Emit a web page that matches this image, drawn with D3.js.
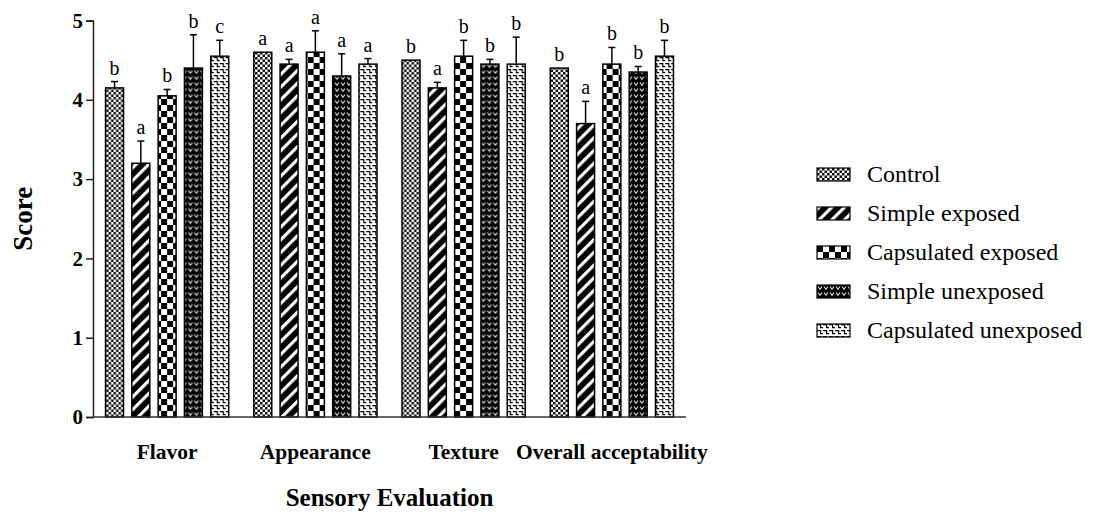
<!DOCTYPE html>
<html>
<head>
<meta charset="utf-8">
<script src="https://cdn.jsdelivr.net/npm/d3@7"></script>
<style>
  html, body { margin: 0; padding: 0; background: #fff; }
  svg { display: block; }
  text { font-family: "Liberation Serif", "Times New Roman", serif; fill: #000; }
</style>
</head>
<body>
<svg id="chart" width="1094" height="513"></svg>
<script>
// Sensory attributes (x groups) and treatments (bars within each group)
const categories = ["Flavor", "Appearance", "Texture", "Overall acceptability"];
const seriesNames = ["Control", "Simple exposed", "Capsulated exposed", "Simple unexposed", "Capsulated unexposed"];

// Mean scores per treatment, in category order
const controlMeans          = [4.15, 4.60, 4.50, 4.40];
const simpleExposedMeans    = [3.20, 4.45, 4.15, 3.70];
const capsExposedMeans      = [4.05, 4.60, 4.55, 4.45];
const simpleUnexposedMeans  = [4.40, 4.30, 4.45, 4.35];
const capsUnexposedMeans    = [4.55, 4.45, 4.45, 4.55];

// Standard deviations (upper error bars)
const controlSD          = [0.08, 0.00, 0.00, 0.00];
const simpleExposedSD    = [0.28, 0.06, 0.07, 0.28];
const capsExposedSD      = [0.08, 0.27, 0.20, 0.21];
const simpleUnexposedSD  = [0.42, 0.28, 0.06, 0.07];
const capsUnexposedSD    = [0.20, 0.07, 0.34, 0.20];

// Significance letters
const controlLetters          = ["b", "a", "b", "b"];
const simpleExposedLetters    = ["a", "a", "a", "a"];
const capsExposedLetters      = ["b", "a", "b", "b"];
const simpleUnexposedLetters  = ["b", "a", "b", "b"];
const capsUnexposedLetters    = ["c", "a", "b", "b"];

const yTicks = [0, 1, 2, 3, 4, 5];

const seriesData = [
  { key: "ctrl", name: seriesNames[0], means: controlMeans, sd: controlSD, letters: controlLetters },
  { key: "sexp", name: seriesNames[1], means: simpleExposedMeans, sd: simpleExposedSD, letters: simpleExposedLetters },
  { key: "cexp", name: seriesNames[2], means: capsExposedMeans, sd: capsExposedSD, letters: capsExposedLetters },
  { key: "sunx", name: seriesNames[3], means: simpleUnexposedMeans, sd: simpleUnexposedSD, letters: simpleUnexposedLetters },
  { key: "cunx", name: seriesNames[4], means: capsUnexposedMeans, sd: capsUnexposedSD, letters: capsUnexposedLetters }
];

const svg = d3.select("#chart");
const defs = svg.append("defs");

const x0 = d3.scaleBand().domain(categories).range([93, 686]).paddingInner(0).paddingOuter(0);
const x1 = d3.scaleBand().domain(seriesNames).range([0, x0.bandwidth()])
  .paddingInner(0.316).paddingOuter(0.4765);
const y = d3.scaleLinear().domain([0, 5]).range([417, 20.5]);

// Fill patterns, anchored at a given origin so each bar starts its tile cleanly
let patCount = 0;
function makePattern(key, ox, oy) {
  const id = "pat" + (patCount++);
  const p = defs.append("pattern").attr("id", id).attr("patternUnits", "userSpaceOnUse");
  if (key === "ctrl") {
    p.attr("width", 5).attr("height", 5).attr("patternTransform", `translate(${ox},${oy})`);
    p.append("rect").attr("width", 5).attr("height", 5).attr("fill", "#fff");
    p.append("rect").attr("width", 2.5).attr("height", 2.5).attr("fill", "#111");
    p.append("rect").attr("x", 2.5).attr("y", 2.5).attr("width", 2.5).attr("height", 2.5).attr("fill", "#111");
  } else if (key === "sexp") {
    p.attr("width", 9).attr("height", 10).attr("patternTransform", `translate(${ox},${oy}) rotate(45)`);
    p.append("rect").attr("width", 9).attr("height", 10).attr("fill", "#000");
    p.append("rect").attr("x", 0).attr("width", 3.2).attr("height", 10).attr("fill", "#fff");
  } else if (key === "cexp") {
    p.attr("width", 12).attr("height", 12).attr("patternTransform", `translate(${ox},${oy})`);
    p.append("rect").attr("width", 12).attr("height", 12).attr("fill", "#fff");
    p.append("rect").attr("width", 6).attr("height", 6).attr("fill", "#000");
    p.append("rect").attr("x", 6).attr("y", 6).attr("width", 6).attr("height", 6).attr("fill", "#000");
  } else if (key === "sunx") {
    p.attr("width", 6).attr("height", 6).attr("patternTransform", `translate(${ox},${oy})`);
    p.append("rect").attr("width", 6).attr("height", 6).attr("fill", "#000");
    p.append("path").attr("d", "M1,1.5 L3,4.3 L5,1.5").attr("fill", "none")
      .attr("stroke", "#ddd").attr("stroke-width", 1.1);
  } else {
    p.attr("width", 6).attr("height", 6).attr("patternTransform", `translate(${ox},${oy})`);
    p.append("rect").attr("width", 6).attr("height", 6).attr("fill", "#fff");
    p.append("path").attr("d", "M0,0.6 H3.6 V3.6 H6")
      .attr("fill", "none").attr("stroke", "#000").attr("stroke-width", 1.2);
  }
  return "url(#" + id + ")";
}

// Axes
const yAxis = d3.axisLeft(y).tickValues(yTicks).tickSize(7).tickPadding(3).tickFormat(d3.format("d"));
const gy = svg.append("g").attr("transform", "translate(93,0)").call(yAxis);
gy.select(".domain").attr("stroke", "#222").attr("stroke-width", 1.5);
gy.selectAll(".tick line").attr("stroke", "#222").attr("stroke-width", 1.5);
gy.selectAll(".tick text").attr("font-family", "Liberation Serif").attr("font-weight", "bold")
  .attr("font-size", 21).attr("fill", "#000");

// Bars
const groups = svg.append("g").selectAll("g").data(categories).join("g")
  .attr("transform", d => `translate(${x0(d)},0)`);

categories.forEach((cat, ci) => {
  const g = groups.filter(d => d === cat);
  seriesData.forEach(s => {
    const bx = x0(cat) + x1(s.name);
    const v = s.means[ci];
    g.append("rect")
      .attr("x", x1(s.name)).attr("y", y(v))
      .attr("width", x1.bandwidth()).attr("height", y(0) - y(v))
      .attr("fill", makePattern(s.key, bx, y(0)))
      .attr("stroke", "#000").attr("stroke-width", 1.5);
    const cx = x1(s.name) + x1.bandwidth() / 2;
    const top = y(v + s.sd[ci]);
    if (s.sd[ci] > 0) {
      g.append("line").attr("x1", cx).attr("x2", cx).attr("y1", y(v)).attr("y2", top)
        .attr("stroke", "#000").attr("stroke-width", 1.5);
      g.append("line").attr("x1", cx - 3.5).attr("x2", cx + 3.5).attr("y1", top).attr("y2", top)
        .attr("stroke", "#000").attr("stroke-width", 1.5);
    }
    g.append("text").attr("x", cx).attr("y", top - 7).attr("text-anchor", "middle")
      .attr("font-size", 20).text(s.letters[ci]);
  });
});

// X baseline
svg.append("line").attr("x1", 93).attr("x2", 686).attr("y1", y(0)).attr("y2", y(0))
  .attr("stroke", "#333").attr("stroke-width", 1.6);

// Category labels
svg.append("g").selectAll("text").data(categories).join("text")
  .attr("x", d => x0(d) + x0.bandwidth() / 2).attr("y", 459)
  .attr("text-anchor", "middle").attr("font-weight", "bold").attr("font-size", 21.5)
  .text(d => d);

// Axis titles
svg.append("text").attr("x", (93 + 686) / 2).attr("y", 506).attr("text-anchor", "middle")
  .attr("font-weight", "bold").attr("font-size", 25).text("Sensory Evaluation");
svg.append("text").attr("transform", `translate(32,${(y(0) + y(5)) / 2}) rotate(-90)`)
  .attr("text-anchor", "middle").attr("font-weight", "bold").attr("font-size", 27).text("Score");

// Legend
const legend = svg.append("g");
seriesData.forEach((s, i) => {
  const base = 182 + i * 39;
  const sx = 817, sy = base - 14;
  legend.append("rect").attr("x", sx).attr("y", sy).attr("width", 33).attr("height", 13)
    .attr("fill", makePattern(s.key, sx, sy)).attr("stroke", "#000").attr("stroke-width", 1.2);
  legend.append("text").attr("x", 867).attr("y", base).attr("font-size", 24).text(s.name);
});
</script>
</body>
</html>
